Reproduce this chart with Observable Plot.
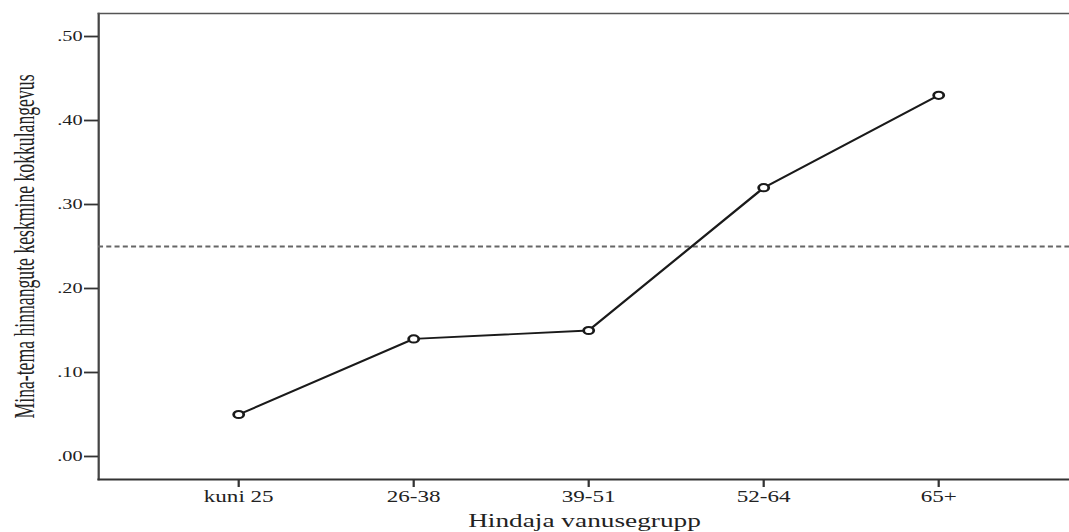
<!DOCTYPE html>
<html>
<head>
<meta charset="utf-8">
<script src="https://cdn.jsdelivr.net/npm/d3@7"></script>
<script src="https://cdn.jsdelivr.net/npm/@observablehq/plot@0.6"></script>
<style>
  html, body { margin: 0; padding: 0; background: #fff; overflow: hidden; }
  #chart { width: 1069px; height: 532px; overflow: hidden; }
  #chart svg { transform: scaleX(1.4); transform-origin: 0 0; display: block; }
</style>
</head>
<body>
<div id="chart"></div>
<script>
// Data
const groups = ["kuni 25", "26-38", "39-51", "52-64", "65+"];
const means = [0.05, 0.14, 0.15, 0.32, 0.43];
const reference = [0.25];
const yTicks = [0, 0.1, 0.2, 0.3, 0.4, 0.5];
const xTitle = "Hindaja vanusegrupp";
const yTitle = "Mina-tema hinnangute keskmine kokkulangevus";

const data = groups.map((g, i) => ({group: g, mean: means[i]}));
const fmt = v => d3.format(".2f")(v).replace(/^0/, "");

const chart = Plot.plot({
  width: 764,
  height: 532,
  marginLeft: 70,
  marginRight: 0,
  marginTop: 13,
  marginBottom: 53,
  style: {fontFamily: "'Liberation Serif', 'Times New Roman', serif", color: "#222", background: "#fff"},
  x: {type: "point", domain: groups, range: [70, 770], padding: 0.78},
  y: {domain: [-0.0274, 0.5274]},
  marks: [
    Plot.frame({anchor: "left", stroke: "#444", strokeWidth: 1.6}),
    Plot.frame({anchor: "top", stroke: "#555", strokeWidth: 1.6}),
    Plot.frame({anchor: "bottom", stroke: "#333", strokeWidth: 1.8}),
    Plot.ruleY(reference, {stroke: "#666", strokeWidth: 2, strokeDasharray: "3.6,2.3"}),
    Plot.axisY({ticks: yTicks, tickFormat: fmt, tickSize: 10, tickPadding: 1.5, fontSize: 14.5, label: null, stroke: "#333", strokeWidth: 1.8}),
    Plot.axisX({tickSize: 8, tickPadding: 3, fontSize: 16.5, label: xTitle, labelAnchor: "center", labelOffset: 47, stroke: "#333", strokeWidth: 1.6}),
    Plot.line(data, {x: "group", y: "mean", stroke: "#1a1a1a", strokeWidth: 1.9}),
    Plot.dot(data, {x: "group", y: "mean", r: 3.6, stroke: "#1a1a1a", strokeWidth: 2, fill: "#fff"}),
    Plot.text([yTitle], {frameAnchor: "left", textAnchor: "middle", rotate: -90, dx: -53.3, fontSize: 21.6, fill: "#222"})
  ]
});

document.getElementById("chart").appendChild(chart);
const svg = d3.select(chart);
svg.selectAll("text").filter(function() { return this.textContent === yTitle; })
  .attr("textLength", 344).attr("lengthAdjust", "spacingAndGlyphs");
svg.selectAll("text").filter(function() { return this.textContent === xTitle; })
  .style("font-size", "19.5px");
</script>
</body>
</html>
